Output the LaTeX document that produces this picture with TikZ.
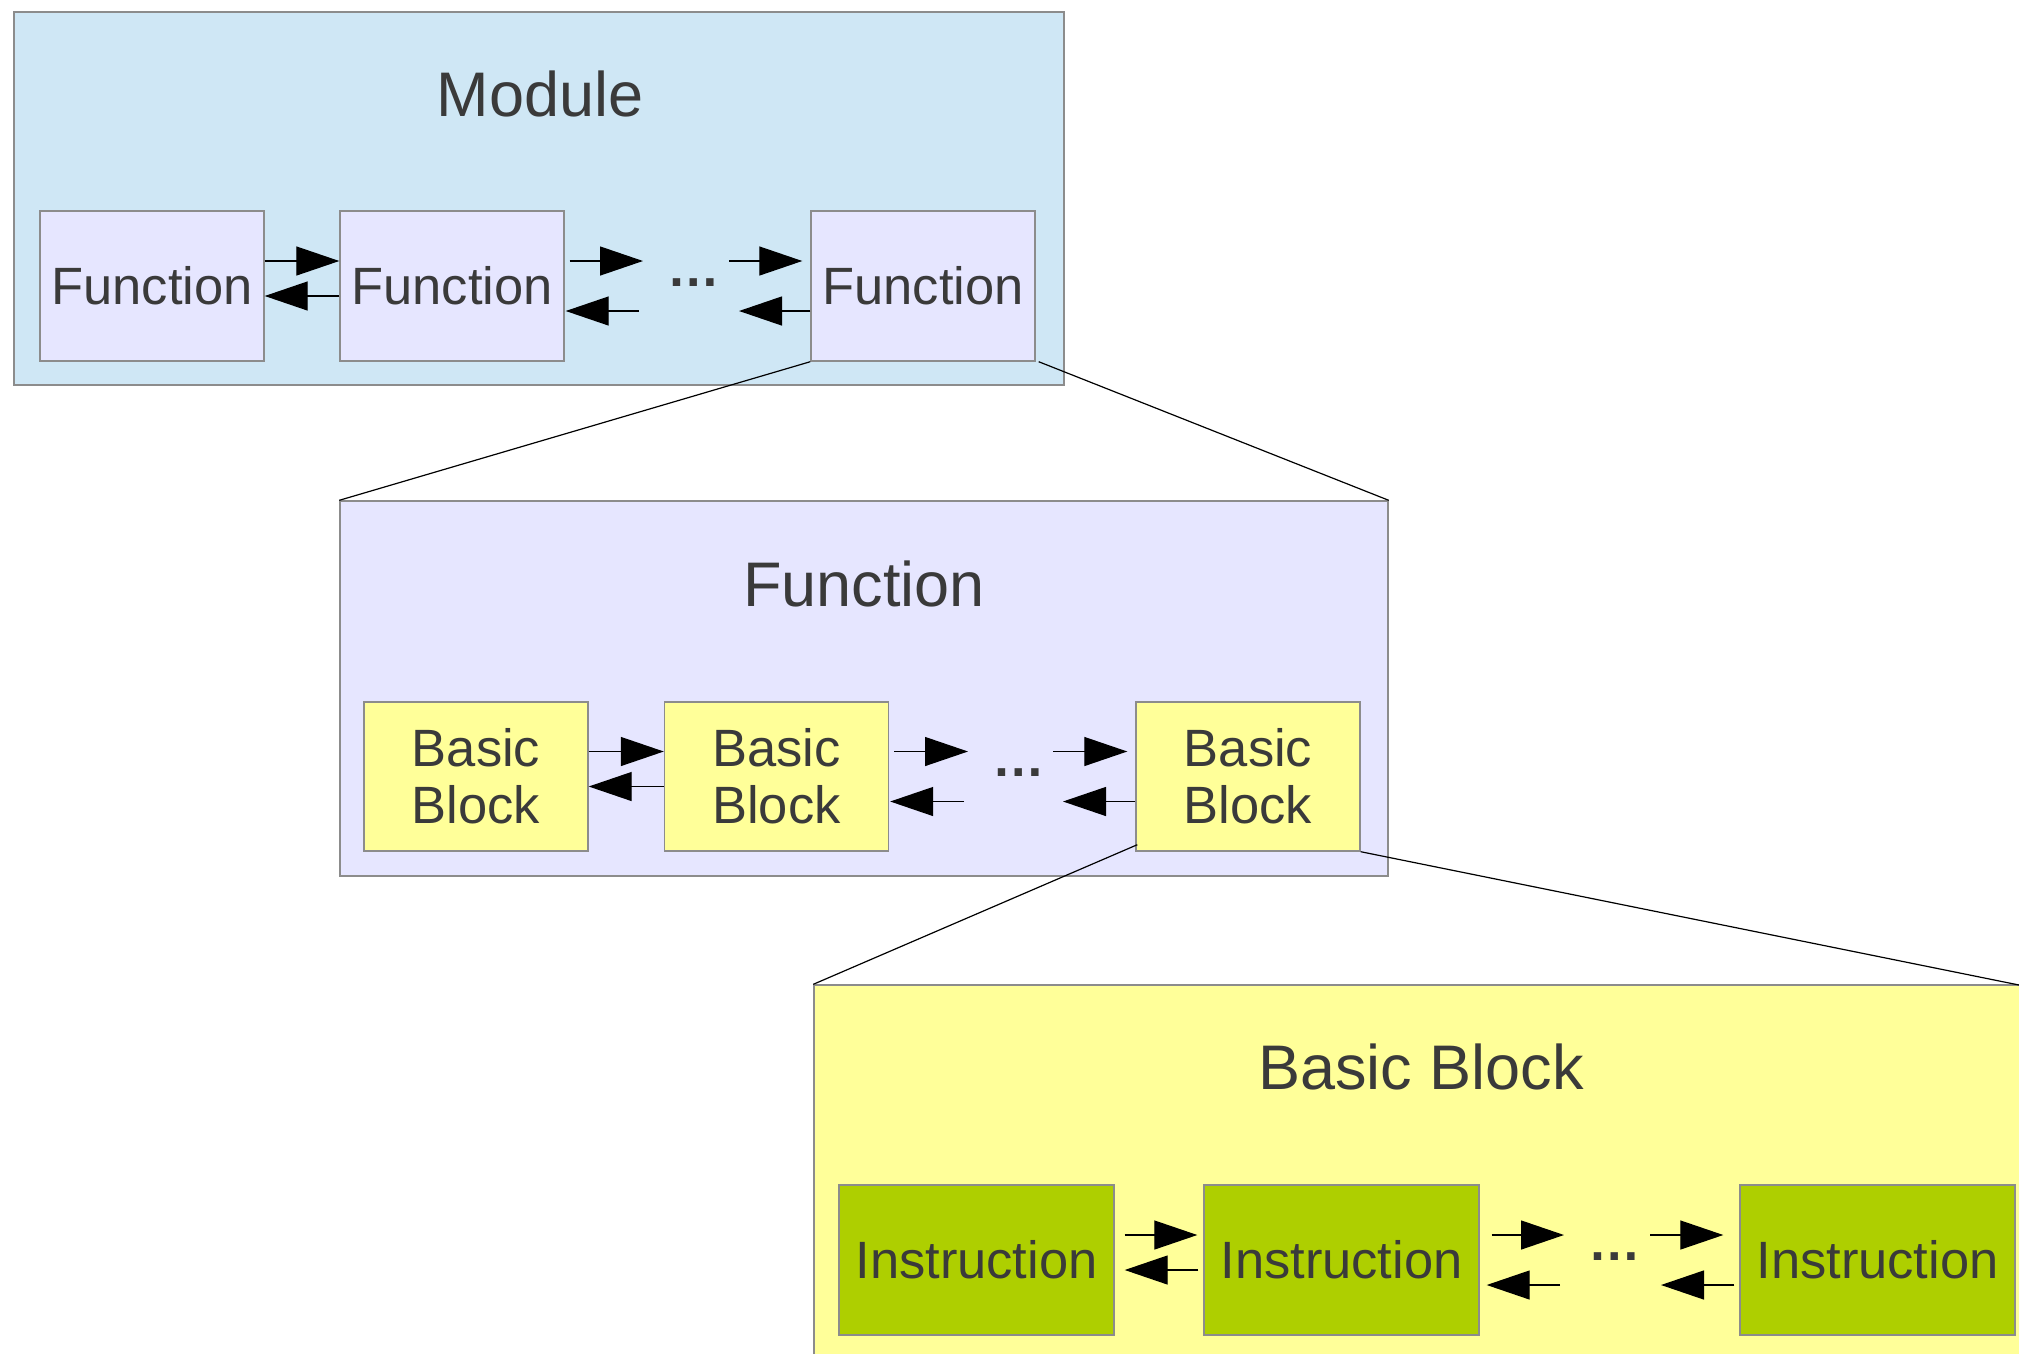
\documentclass[tikz,border=0pt]{standalone}
\usepackage{fontspec}
\setmainfont{Liberation Sans}
\usetikzlibrary{arrows.meta}
\definecolor{modblue}{HTML}{CFE7F5}
\definecolor{funcviolet}{HTML}{E6E6FF}
\definecolor{bbyellow}{HTML}{FFFF99}
\definecolor{insgreen}{HTML}{AECF00}
\definecolor{bordergray}{HTML}{8C8C8C}
\definecolor{textgray}{HTML}{3A3A3A}
\begin{document}
\begin{tikzpicture}[x=1pt,y=-1pt,
  panel/.style={draw=bordergray, line width=1.4pt, inner sep=0pt},
  box/.style={draw=bordergray, line width=1.4pt, inner sep=0pt, align=center,
    text=textgray, font=\fontsize{52.5}{57}\selectfont},
  funcbox/.style={box, fill=funcviolet, minimum width=224pt, minimum height=150pt},
  bbbox/.style={box, fill=bbyellow, minimum width=224pt, minimum height=149pt},
  insbox/.style={box, fill=insgreen, minimum width=275pt, minimum height=150pt},
  title/.style={anchor=base, inner sep=0pt, text=textgray, font=\fontsize{63}{70}\selectfont},
  dots/.style={anchor=base, inner sep=0pt, text=textgray, font=\fontsize{52.5}{57}\selectfont\bfseries},
  arr/.style={line width=1.3pt, draw=black, -{Triangle[length=43pt,width=29pt]}},
  zoomline/.style={line width=1.2pt, draw=black}]
\useasboundingbox (0,0) rectangle (2019,1353);
\clip (0,0) rectangle (2019,1353);
\fill[white] (0,0) rectangle (2019,1353);

% ---------- Module panel ----------
\node[panel, fill=modblue, minimum width=1050pt, minimum height=373pt] (mpanel) at (539,198.5) {};
\node[title] (mtitle) at (540,116) {Module};
\node[funcbox] (m1) at (152,286) {Function};
\node[funcbox] (m2) at (452,286) {Function};
\node[funcbox] (m3) at (923,286) {Function};
\node[dots] (mdots) at (693.5,286) {…};
\coordinate (mB1) at (643,261);
\coordinate (mB2) at (639,311);
\coordinate (mC1) at (729,261);
\coordinate (mC2) at (739,311);
\draw[arr] ([yshift=25pt]m1.east) -- ([yshift=25pt]m2.west);
\draw[arr] ([yshift=-10pt]m2.west) -- ([yshift=-10pt]m1.east);
\draw[arr] ([xshift=5pt,yshift=25pt]m2.east) -- (mB1);
\draw[arr] (mB2) -- ([xshift=1pt,yshift=-25pt]m2.east);
\draw[arr] (mC1) -- ([xshift=-8pt,yshift=25pt]m3.west);
\draw[arr] ([yshift=-25pt]m3.west) -- (mC2);

% ---------- Function panel ----------
\node[panel, fill=funcviolet, minimum width=1048pt, minimum height=375pt] (fpanel) at (864,688.5) {};
\node[title] (ftitle) at (864,606) {Function};
\node[bbbox] (f1) at (476,776.5) {Basic\\Block};
\node[bbbox] (f2) at (776.5,776.5) {Basic\\Block};
\node[bbbox] (f3) at (1248,776.5) {Basic\\Block};
\node[dots] (fdots) at (1019,776.5) {…};
\coordinate (fB1) at (968,751.5);
\coordinate (fB2) at (964,801.5);
\coordinate (fC1) at (1053,751.5);
\coordinate (fC2) at (1063,801.5);
\draw[arr] ([yshift=25pt]f1.east) -- ([yshift=25pt]f2.west);
\draw[arr] ([yshift=-10pt]f2.west) -- ([yshift=-10pt]f1.east);
\draw[arr] ([xshift=5pt,yshift=25pt]f2.east) -- (fB1);
\draw[arr] (fB2) -- ([xshift=1pt,yshift=-25pt]f2.east);
\draw[arr] (fC1) -- ([xshift=-8pt,yshift=25pt]f3.west);
\draw[arr] ([yshift=-25pt]f3.west) -- (fC2);

% ---------- Basic Block panel ----------
\node[panel, fill=bbyellow, minimum width=1226pt, minimum height=385pt] (bpanel) at (1427,1177.5) {};
\node[title] (btitle) at (1421,1089) {Basic Block};
\node[insbox] (i1) at (976.5,1260) {Instruction};
\node[insbox] (i2) at (1341.5,1260) {Instruction};
\node[insbox] (i3) at (1877.5,1260) {Instruction};
\node[dots] (idots) at (1614.5,1260) {…};
\coordinate (iB1) at (1564,1235);
\coordinate (iB2) at (1560,1285);
\coordinate (iC1) at (1650,1235);
\coordinate (iC2) at (1661,1285);
\draw[arr] ([xshift=10pt,yshift=25pt]i1.east) -- ([xshift=-6pt,yshift=25pt]i2.west);
\draw[arr] ([xshift=-5pt,yshift=-10pt]i2.west) -- ([xshift=10pt,yshift=-10pt]i1.east);
\draw[arr] ([xshift=12pt,yshift=25pt]i2.east) -- (iB1);
\draw[arr] (iB2) -- ([xshift=7pt,yshift=-25pt]i2.east);
\draw[arr] (iC1) -- ([xshift=-16pt,yshift=25pt]i3.west);
\draw[arr] ([xshift=-5pt,yshift=-25pt]i3.west) -- (iC2);

% ---------- zoom connectors ----------
\coordinate (bcorner) at (2019,985);
\draw[zoomline] (m3.south west) -- (fpanel.north west);
\draw[zoomline] ([xshift=3pt]m3.south east) -- (fpanel.north east);
\draw[zoomline] ([xshift=2pt,yshift=7pt]f3.south west) -- (bpanel.north west);
\draw[zoomline] (f3.south east) -- (bcorner);
\end{tikzpicture}
\end{document}
